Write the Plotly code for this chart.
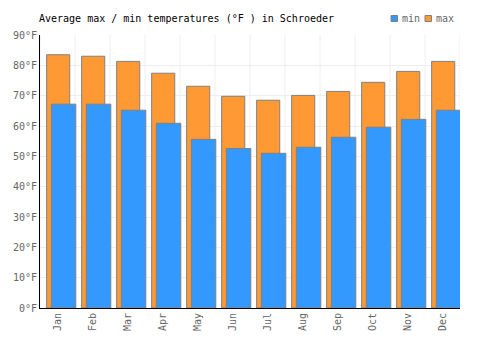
import plotly.graph_objects as go

months = ["Jan", "Feb", "Mar", "Apr", "May", "Jun", "Jul", "Aug", "Sep", "Oct", "Nov", "Dec"]
temp_max = [83.5, 83.0, 81.3, 77.4, 73.1, 69.8, 68.5, 70.1, 71.4, 74.4, 78.0, 81.3]
temp_min = [67.2, 67.2, 65.2, 60.9, 55.6, 52.6, 51.0, 53.0, 56.3, 59.6, 62.2, 65.2]

FONT = "DejaVu Sans Mono"
W, H = 500, 350
ML, MR, MT, MB = 40, 40, 35, 42
PW, PH = W - ML - MR, H - MT - MB

def px_x(px):
    return (px - ML) / PW

def px_y(py):
    return 1 - (py - MT) / PH

fig = go.Figure()
fig.add_trace(go.Bar(
    x=months, y=temp_max, name="max",
    marker=dict(color="#FF9933", line=dict(color="#808080", width=1)),
    width=0.66, offset=-0.31,
))
fig.add_trace(go.Bar(
    x=months, y=temp_min, name="min",
    marker=dict(color="#3399FF", line=dict(color="#808080", width=1)),
    width=0.70, offset=-0.177,
))

fig.update_layout(
    width=W, height=H,
    margin=dict(l=ML, r=MR, t=MT, b=MB),
    barmode="overlay",
    paper_bgcolor="white", plot_bgcolor="white",
    title=dict(text="Average max / min temperatures (°F ) in Schroeder",
               x=39/W, xanchor="left", y=1-18/H, yanchor="middle",
               font=dict(family=FONT, size=10, color="#000")),
    font=dict(family=FONT, size=10, color="#666"),
    showlegend=False,
)
fig.update_xaxes(
    showline=True, linecolor="#000", linewidth=1,
    showgrid=False, tickangle=-90, ticks="",
    tickfont=dict(family=FONT, size=10, color="#666"),
    range=[-0.5, 11.5],
)
fig.update_yaxes(
    range=[0, 90], dtick=10, ticksuffix="°F",
    showline=True, linecolor="#000", linewidth=1,
    showgrid=True, gridcolor="#eeeeee", gridwidth=1,
    zeroline=False,
    tickfont=dict(family=FONT, size=10, color="#666"),
)
# vertical category grid lines
for i in range(13):
    fig.add_shape(type="line", xref="x", yref="paper", x0=i-0.5, x1=i-0.5, y0=0, y1=1,
                  line=dict(color="#eeeeee", width=1), layer="below")

# legend (min, max) drawn as swatches + text
legend_items = [("min", "#3399FF", 391, 400), ("max", "#FF9933", 425, 434)]
for label, color, sx, tx in legend_items:
    fig.add_shape(type="rect", xref="paper", yref="paper",
                  x0=px_x(sx), x1=px_x(sx + 6.5), y0=px_y(15.5), y1=px_y(21.5),
                  fillcolor=color, line=dict(color="#808080", width=1))
    fig.add_annotation(text=label, xref="paper", yref="paper",
                       x=px_x(tx), y=px_y(18.5), xanchor="left", yanchor="middle",
                       showarrow=False, font=dict(family=FONT, size=10, color="#666"))

fig.write_html("out.html")
